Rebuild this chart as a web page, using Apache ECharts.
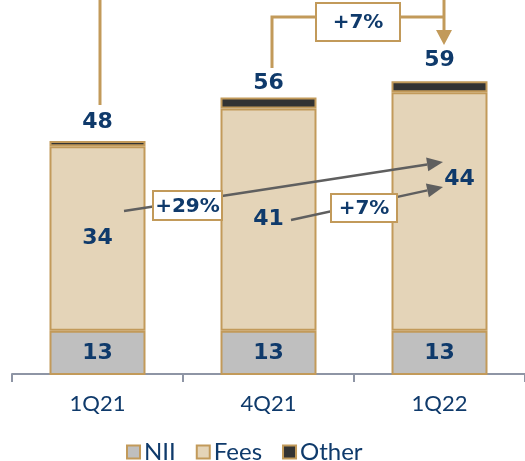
<!DOCTYPE html>
<html>
<head>
<meta charset="utf-8">
<script src="https://cdn.jsdelivr.net/npm/echarts@6/dist/echarts.min.js"></script>
<style>
  html, body { margin: 0; padding: 0; background: #fff; }
  #chart { width: 525px; height: 461px; }
</style>
</head>
<body>
<div id="chart"></div>
<script>
// data
const quarters = ['1Q21', '4Q21', '1Q22']
const nii = [13, 13, 13]
const fees = [34, 41, 44]
const other = [1, 2, 2]
const totals = quarters.map((q, i) => nii[i] + fees[i] + other[i])

const navy = '#0f3a6b'
const gold = '#c29a5a'
const font = 'Lato'
const boldFont = 'DejaVu Sans'

const myChart = echarts.init(document.getElementById('chart'))

// arrow helper: line + filled head
function arrow(x1, y1, x2, y2, color) {
  const ang = Math.atan2(y2 - y1, x2 - x1)
  const len = 16, half = 7
  const bx = x2 - len * Math.cos(ang), by = y2 - len * Math.sin(ang)
  const px = -Math.sin(ang) * half, py = Math.cos(ang) * half
  return [
    { type: 'line', z: 10, shape: { x1: x1, y1: y1, x2: bx, y2: by }, style: { stroke: color, lineWidth: 2.5 } },
    { type: 'polygon', z: 10, shape: { points: [[x2, y2], [bx + px, by + py], [bx - px, by - py]] }, style: { fill: color } }
  ]
}
function box(x, y, w, h, txt) {
  return [
    { type: 'rect', z: 11, shape: { x: x, y: y, width: w, height: h }, style: { fill: '#fff', stroke: gold, lineWidth: 2 } },
    { type: 'text', z: 12, style: { text: txt, x: x + w / 2, y: y + h / 2 + 1, align: 'center', verticalAlign: 'middle', font: 'bold 20px ' + boldFont, fill: navy } }
  ]
}

const totalDist = [8, 3, 10]
const barLabel = { show: true, color: navy, fontFamily: boldFont, fontWeight: 'bold', fontSize: 22 }
const itemStyle = c => ({ color: c, borderColor: gold, borderWidth: 2 })

const option = {
  animation: false,
  grid: { left: 12, top: 0, width: 516, height: 374 },
  legend: {
    bottom: -8, left: 121,
    itemWidth: 13, itemHeight: 13, itemGap: 20,
    icon: 'rect',
    textStyle: { color: navy, fontFamily: font, fontSize: 24, padding: [0, 0, 0, -1] },
    data: ['NII', 'Fees', 'Other']
  },
  xAxis: {
    type: 'category',
    data: quarters,
    axisLine: { lineStyle: { color: '#8e95a5', width: 2 } },
    axisTick: { show: true, interval: 0, length: 8, lineStyle: { color: '#8e95a5', width: 2 } },
    axisLabel: { color: navy, fontFamily: font, fontSize: 22, margin: 19 }
  },
  yAxis: { type: 'value', min: 5, max: 74, show: false, splitLine: { show: false } },
  series: [
    { name: 'NII', type: 'bar', stack: 'a', barWidth: 96, data: nii, itemStyle: itemStyle('#bfbfbf'),
      label: Object.assign({ position: 'inside' }, barLabel) },
    { name: 'Fees', type: 'bar', stack: 'a', barWidth: 96, itemStyle: itemStyle('#e4d4b8'),
      data: fees.map((v, i) => i === 2 ? { value: v, label: { offset: [20, -32] } } : v),
      label: Object.assign({ position: 'inside' }, barLabel) },
    { name: 'Other', type: 'bar', stack: 'a', barWidth: 96, itemStyle: itemStyle('#333333'),
      data: other.map((v, i) => ({ value: v, label: { distance: totalDist[i] } })),
      label: Object.assign({ position: 'top', formatter: p => totals[p.dataIndex] }, barLabel) }
  ],
  graphic: [
    // gold line from top to 1Q21 total
    { type: 'line', z: 10, shape: { x1: 100, y1: 0, x2: 100, y2: 105 }, style: { stroke: gold, lineWidth: 3 } },
    // bracket 4Q21 -> 1Q22
    { type: 'polyline', z: 10, shape: { points: [[272, 68], [272, 17], [444, 17]] }, style: { stroke: gold, lineWidth: 3, fill: null } },
    { type: 'line', z: 10, shape: { x1: 444, y1: 0, x2: 444, y2: 32 }, style: { stroke: gold, lineWidth: 3 } },
    { type: 'polygon', z: 10, shape: { points: [[436, 30], [452, 30], [444, 45]] }, style: { fill: gold } },
    ...box(316, 3, 84, 38, '+7%'),
    // gray arrows
    ...arrow(124, 211, 443, 162, '#5f5f5f'),
    ...arrow(291, 220, 443, 187, '#5f5f5f'),
    ...box(153, 191, 69, 29, '+29%'),
    ...box(331, 194, 66, 28, '+7%')
  ]
}
myChart.setOption(option)
</script>
</body>
</html>
